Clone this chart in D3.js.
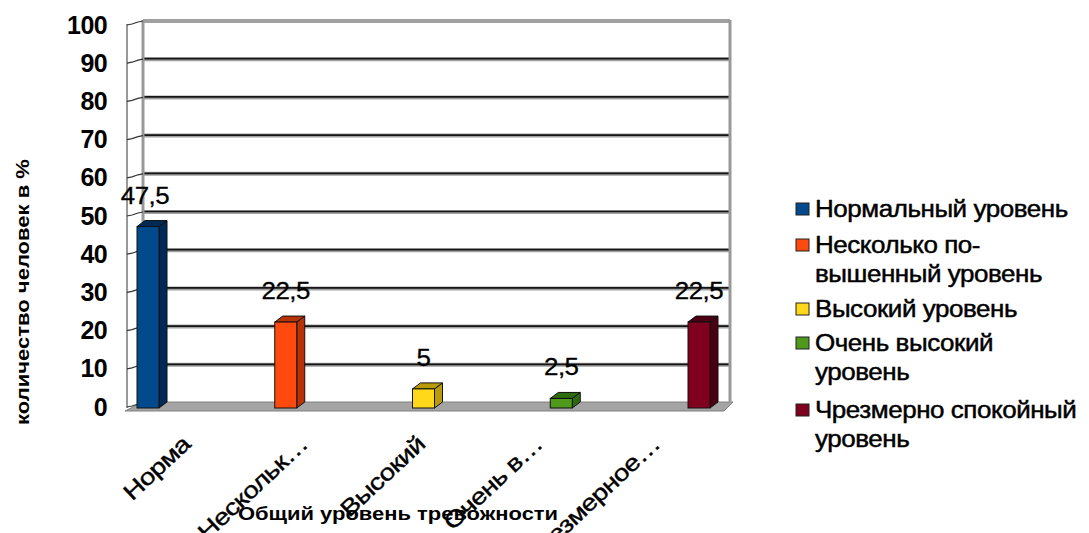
<!DOCTYPE html>
<html>
<head>
<meta charset="utf-8">
<script src="https://cdn.jsdelivr.net/npm/d3@7/dist/d3.min.js"></script>
<style>
  body { margin: 0; background: #fff; }
  svg { display: block; font-family: "Liberation Sans", Arial, sans-serif; }
</style>
</head>
<body>
<div id="chart"></div>
<script>
const width = 1089, height = 533;

// data
const categories = ["Норма", "Нескольк…", "Высокий", "Очень в…", "Чрезмерное…"];
const values = [47.5, 22.5, 5, 2.5, 22.5];
const valueLabels = ["47,5", "22,5", "5", "2,5", "22,5"];
const legendLines = [
  ["Нормальный уровень"],
  ["Несколько по-", "вышенный уровень"],
  ["Высокий уровень"],
  ["Очень высокий", "уровень"],
  ["Чрезмерно спокойный", "уровень"]
];
const yTicks = [0, 10, 20, 30, 40, 50, 60, 70, 80, 90, 100];
const frontColors = ["#004a8c", "#ff4a0f", "#ffd81a", "#4f9a1c", "#80001f"];
const sideColors = ["#002a55", "#b83208", "#b89a0a", "#2e6a0e", "#4a0012"];

const svg = d3.select("#chart")
  .append("svg")
  .attr("width", width)
  .attr("height", height);

// back wall scale, bars sit a bit lower/left (front plane)
const wallL = 143, wallR = 730;
const yBack = d3.scaleLinear().domain([0, 100]).range([403, 21]);
const dyFront = 5;
const x = d3.scalePoint().domain(categories).range([148, 699]);
// category labels follow the back wall bands
const xLab = d3.scaleBand().domain(categories).range([wallL, wallR]);

// floor
svg.append("polygon")
  .attr("points", [[wallL, 402], [wallR + 3, 402], [wallR - 6, 411], [125, 411]].join(" "))
  .style("fill", "#a4a4a4")
  .style("stroke", "#808080");

// gridlines on the back wall
const grid = svg.append("g");
grid.selectAll(".g1")
  .data(yTicks.filter(d => d > 0))
  .enter()
  .append("line")
  .attr("x1", wallL).attr("x2", wallR)
  .attr("y1", d => yBack(d)).attr("y2", d => yBack(d))
  .style("stroke", "#a0a0a0")
  .style("stroke-width", 4);
grid.selectAll(".g2")
  .data(yTicks.filter(d => d > 0 && d < 100))
  .enter()
  .append("line")
  .attr("x1", wallL).attr("x2", wallR)
  .attr("y1", d => yBack(d) - 0.5).attr("y2", d => yBack(d) - 0.5)
  .style("stroke", "#151515")
  .style("stroke-width", 1.7);

// wall edges
svg.append("line").attr("x1", wallL).attr("x2", wallL).attr("y1", yBack(100) - 1).attr("y2", 403)
  .style("stroke", "#999").style("stroke-width", 3);
svg.append("line").attr("x1", wallR).attr("x2", wallR).attr("y1", yBack(100) - 1).attr("y2", 403)
  .style("stroke", "#999").style("stroke-width", 3);
svg.append("line").attr("x1", 127).attr("x2", 127).attr("y1", yBack(100) + 3).attr("y2", 408)
  .style("stroke", "#999").style("stroke-width", 2);

// small diagonal ticks on the side wall
svg.append("g").selectAll("path")
  .data(yTicks)
  .enter()
  .append("path")
  .attr("d", d => `M127,${yBack(d) + 4} L132,${yBack(d) + 3} L138,${yBack(d) + 1} L143,${yBack(d)}`)
  .style("fill", "none")
  .style("stroke", "#333")
  .style("stroke-width", 1.2);

// y axis labels
const yAxis = d3.axisLeft(yBack).tickValues(yTicks).tickSize(0).tickPadding(0);
const ya = svg.append("g")
  .attr("transform", "translate(107,4)")
  .call(yAxis);
ya.select(".domain").remove();
ya.selectAll("text")
  .style("font-size", "25px")
  .style("font-weight", "bold")
  .style("letter-spacing", "-0.6px")
  .style("fill", "#000");

// bars (side, top, front face)
const bw = 22, dx = 8, dz = 6;
const bars = svg.append("g").selectAll("g")
  .data(categories)
  .enter()
  .append("g");

bars.append("polygon")
  .attr("points", (d, i) => {
    const x0 = x(d) + bw / 2, yt = yBack(values[i]) + dyFront, yb = yBack(0) + dyFront;
    return [[x0, yt], [x0 + dx, yt - dz], [x0 + dx, yb - dz], [x0, yb]].join(" ");
  })
  .style("fill", (d, i) => sideColors[i])
  .style("stroke", "#111");

bars.append("polygon")
  .attr("points", (d, i) => {
    const x0 = x(d) - bw / 2, yt = yBack(values[i]) + dyFront;
    return [[x0, yt], [x0 + dx, yt - dz], [x0 + bw + dx, yt - dz], [x0 + bw, yt]].join(" ");
  })
  .style("fill", (d, i) => sideColors[i])
  .style("stroke", "#111");

bars.append("rect")
  .attr("x", d => x(d) - bw / 2)
  .attr("y", (d, i) => yBack(values[i]) + dyFront)
  .attr("width", bw)
  .attr("height", (d, i) => yBack(0) - yBack(values[i]))
  .style("fill", (d, i) => frontColors[i])
  .style("stroke", "#111");

// value labels
svg.append("g").selectAll("text")
  .data(categories)
  .enter()
  .append("text")
  .attr("transform", (d, i) =>
    `translate(${x(d) + (i === 0 ? -3 : 0)},${yBack(values[i]) + dyFront - dz - 17}) scale(1.08,1)`)
  .attr("text-anchor", "middle")
  .style("font-size", "24px")
  .style("letter-spacing", "-0.5px")
  .style("stroke", "#000")
  .style("stroke-width", 0.3)
  .text((d, i) => valueLabels[i]);

// category labels, rotated (they run off the bottom like the original)
svg.append("g").selectAll("text")
  .data(categories)
  .enter()
  .append("text")
  .attr("transform", d => `translate(${xLab(d) + xLab.bandwidth() / 2 - 10},${446}) rotate(-43) scale(1.2,1)`)
  .attr("text-anchor", "end")
  .style("font-size", "23px")
  .style("letter-spacing", "-0.6px")
  .style("stroke", "#000")
  .style("stroke-width", 0.4)
  .text(d => d);

// axis titles
svg.append("text")
  .attr("transform", "translate(398,520) scale(1.22,1)")
  .attr("text-anchor", "middle")
  .style("font-size", "18px")
  .style("font-weight", "bold")
  .text("Общий уровень тревожности");

svg.append("text")
  .attr("transform", "translate(29,292) rotate(-90) scale(1.16,1)")
  .attr("text-anchor", "middle")
  .style("font-size", "19px")
  .style("font-weight", "bold")
  .text("количество человек в %");

// legend
const rowY = [217, 253, 317, 351, 418];
const legend = svg.append("g").selectAll("g")
  .data(legendLines)
  .enter()
  .append("g")
  .attr("transform", (d, i) => `translate(0,${rowY[i]})`);

legend.append("rect")
  .attr("x", 796).attr("y", -14)
  .attr("width", 13).attr("height", 12)
  .style("fill", (d, i) => frontColors[i])
  .style("stroke", "#222");

legend.append("text")
  .attr("transform", "translate(815,0) scale(1.13,1)")
  .style("font-size", "23px")
  .style("letter-spacing", "-0.4px")
  .style("stroke", "#000")
  .style("stroke-width", 0.45)
  .selectAll("tspan")
  .data(d => d)
  .enter()
  .append("tspan")
  .attr("x", 0)
  .attr("dy", (d, i) => i === 0 ? 0 : 29)
  .text(d => d);
</script>
</body>
</html>
